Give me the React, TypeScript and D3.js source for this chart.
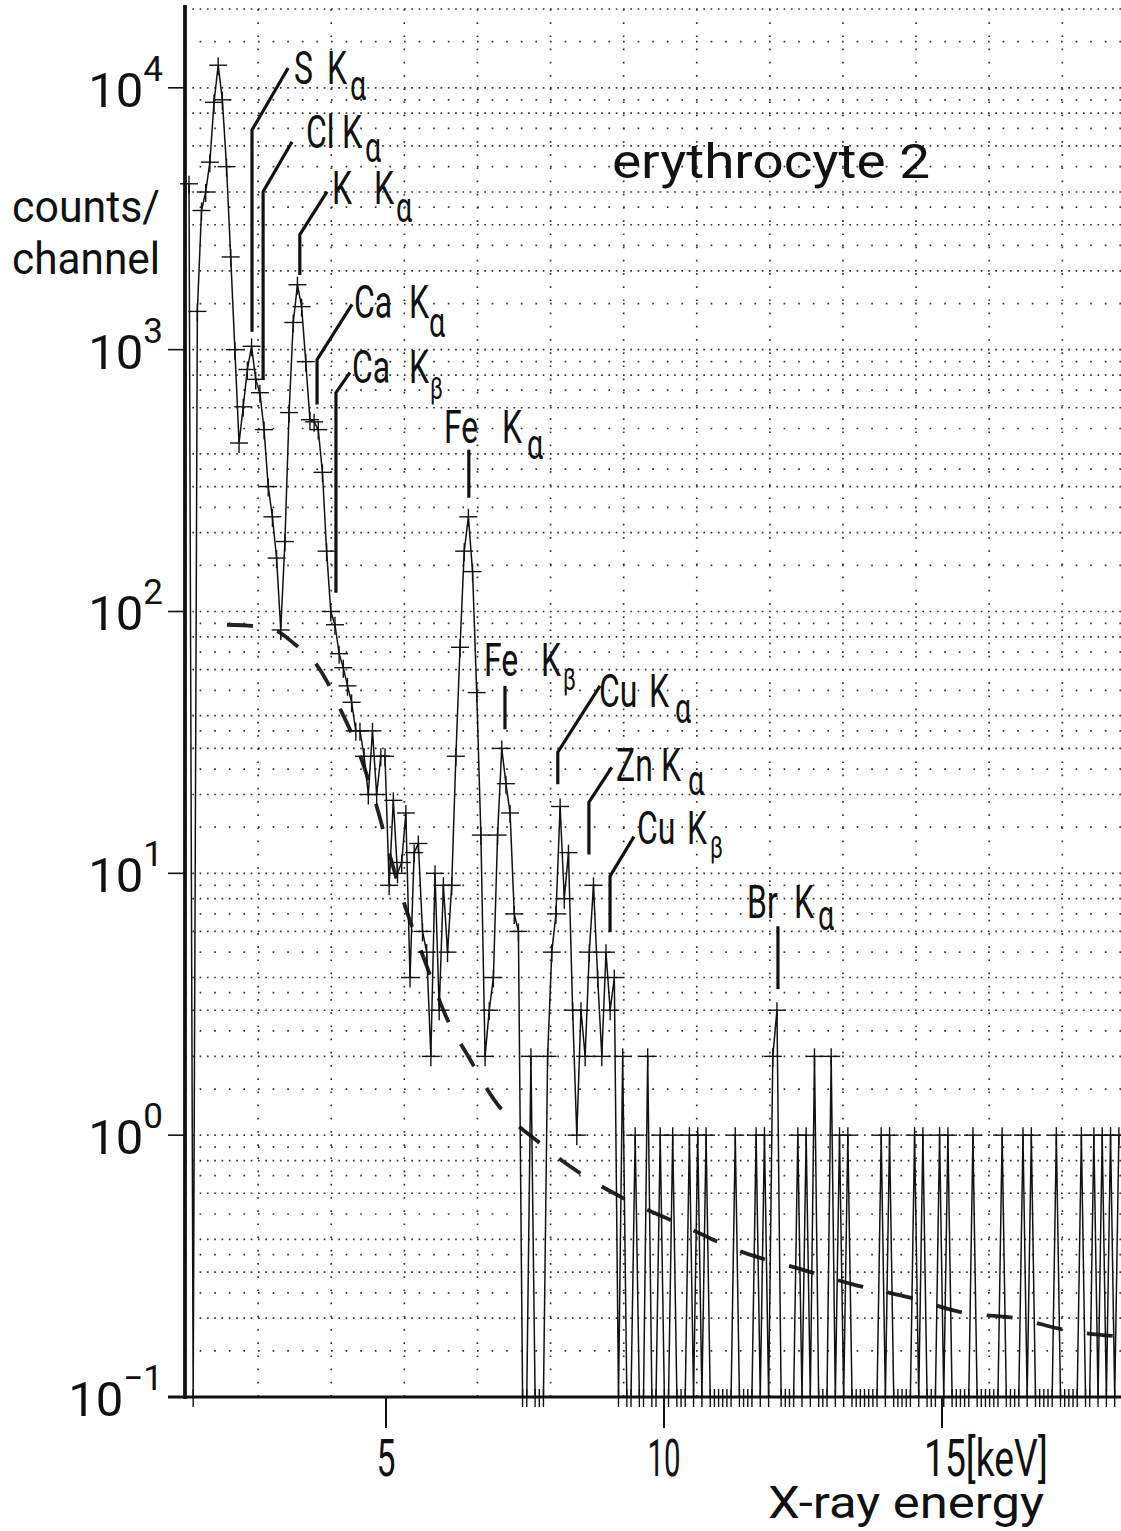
import React from "react";
import * as d3 from "d3";

const width = 1121;
const height = 1531;

// spectrum, one value per channel
const channelStart = 1.457; // keV of first channel
const channelWidth = 0.075; // keV per channel
const counts = [
  4300, 0, 1400, 3400, 4000, 5200, 8800, 12200, 9000, 5000,
  2260, 1000, 440, 605, 840, 1030, 770, 685, 495, 300,
  230, 160, 85, 185, 575, 1270, 1770, 1460, 900, 540,
  530, 495, 340, 170, 100, 89, 69, 61, 52, 45,
  35, 35, 28, 20, 35, 20, 28, 28, 9, 19,
  10, 11, 17, 4, 12, 13, 6, 5, 2, 10,
  3, 9, 5, 9, 28, 73, 170, 230, 142, 49,
  14, 2, 3, 4, 14, 30, 22, 17, 7, 6,
  0, 0, 2, 0, 0, 0, 2, 5, 7, 18,
  8, 12, 3, 1, 3, 2, 5, 9, 4, 2,
  5, 3, 4, 0, 2, 0, 0, 1, 0, 0,
  2, 0, 0, 1, 0, 0, 1, 0, 0, 0,
  1, 0, 1, 0, 1, 0, 0, 0, 0, 0,
  0, 1, 0, 0, 0, 0, 1, 0, 1, 0,
  2, 3, 0, 0, 0, 0, 1, 0, 1, 0,
  2, 0, 0, 0, 2, 0, 1, 0, 1, 0,
  0, 0, 0, 0, 0, 0, 1, 0, 1, 0,
  0, 0, 0, 0, 1, 0, 1, 0, 0, 0,
  1, 0, 1, 0, 0, 0, 0, 0, 1, 0,
  0, 0, 0, 0, 0, 1, 0, 0, 0, 0,
  1, 0, 1, 0, 0, 0, 0, 0, 1, 0,
  0, 0, 0, 0, 1, 0, 0, 1, 0, 1,
  0, 1, 0, 1,
];

// background (dashed curve)
const bgEnergy = [2.14, 2.61, 3.0, 3.36, 3.67, 3.94, 4.21, 4.44, 4.62, 4.85, 5.09, 5.38, 5.72, 6.08, 6.51, 6.94, 7.77, 8.56, 9.3, 10.36, 11.37, 12.41, 13.38, 14.41, 15.38, 16.33, 17.23, 18.22];
const bgCounts = [89, 88, 85, 75, 66, 54, 41, 32, 25, 17.5, 11.3, 7.1, 4.5, 2.84, 1.95, 1.37, 0.93, 0.7, 0.57, 0.45, 0.36, 0.31, 0.27, 0.24, 0.21, 0.2, 0.18, 0.17];

// axes
const yTickExponents = [4, 3, 2, 1, 0, -1];
const xTickValues = [5, 10, 15];
const xTickLabels = ["5", "10", "15[keV]"];
const xTitle = "X-ray energy";
const yTitle = ["counts/", "channel"];
const chartTitle = "erythrocyte 2";

// peak labels and their leader lines (keV, counts)
const peakElements = ["S", "Cl", "K", "Ca", "Ca", "Fe", "Fe", "Cu", "Zn", "Cu", "Br"];
const peakLines = ["α", "α", "α", "α", "β", "α", "β", "α", "α", "β", "α"];
const peakLeaders: [number, number][][] = [
  [[3.24, 11900], [2.59, 6900], [2.59, 1170]],
  [[3.31, 6220], [2.79, 4010], [2.79, 767]],
  [[3.94, 4010], [3.45, 2750], [3.45, 1930]],
  [[4.39, 1490], [3.76, 916], [3.76, 617]],
  [[4.35, 817], [4.1, 685], [4.1, 118]],
  [[6.49, 415], [6.49, 272]],
  [[7.14, 52], [7.14, 35.5]],
  [[8.85, 52], [8.09, 29], [8.09, 21.9]],
  [[9.06, 25.4], [8.65, 18.7], [8.65, 11.8]],
  [[9.46, 13.8], [9.03, 9.75], [9.03, 5.96]],
  [[12.05, 6.28], [12.05, 3.61]],
];

// label placement (px): element x, K x, subscript x, baselines
const labelLayout = [
  { ex: 294, kx: 327, sx: 350, base: 84, sub: 100 },
  { ex: 306, kx: 342, sx: 365, base: 148, sub: 162 },
  { ex: 332, kx: 374, sx: 396, base: 204, sub: 222 },
  { ex: 354, kx: 409, sx: 429, base: 318, sub: 337 },
  { ex: 352, kx: 409, sx: 430, base: 383, sub: 399 },
  { ex: 444, kx: 502, sx: 527, base: 443, sub: 459 },
  { ex: 484, kx: 541, sx: 563, base: 676, sub: 690 },
  { ex: 599, kx: 649, sx: 675, base: 707, sub: 723 },
  { ex: 616, kx: 661, sx: 688, base: 781, sub: 795 },
  { ex: 637, kx: 687, sx: 710, base: 844, sub: 858 },
  { ex: 747, kx: 794, sx: 818, base: 918, sub: 930 },
];
const squeeze = 0.68;

const font = "Roboto, 'DejaVu Sans', sans-serif";
const ink = "#111";

const left = 185;
const bottom = 1397;
const xDomain = [1.385, 18.22];
const gridStep = 1.315; // keV between vertical grid lines
const gridMults = [1, 1.5, 2, 2.5, 3, 3.5, 4, 5, 6, 7, 8, 9];
const denseMults = [1, 2, 3, 4, 6, 8];

export default function App() {
  const x = d3.scaleLinear().domain(xDomain).range([left, width]);
  const y = d3.scaleLog().domain([0.1, 2e4]).range([bottom, 9]);
  const yv = (c: number) => (c > 0 ? y(c) : y(0.1));

  const pts = counts.map((c, i) => [x(channelStart + i * channelWidth), yv(c)] as [number, number]);
  const spectrumPath = d3.line()(pts);

  const bgPath = d3
    .line<number>()
    .x((d, i) => x(bgEnergy[i]))
    .y((d) => y(d))
    .curve(d3.curveMonotoneX)(bgCounts);

  // grid
  const rows: { v: number; dense: boolean }[] = [];
  for (let e = -1; e <= 4; e++) {
    gridMults.forEach((m) => {
      const v = m * Math.pow(10, e);
      if (v <= 2.0001e4 && v > 0.1) rows.push({ v, dense: denseMults.includes(m) });
    });
  }
  const cols = d3.range(1, 13).map((k) => xDomain[0] + k * gridStep);

  const leader = d3
    .line<[number, number]>()
    .x((d) => x(d[0]))
    .y((d) => y(d[1]));

  return (
    <svg
      width={width}
      height={height}
      style={{ position: "absolute", left: 0, top: 0, background: "#fff" }}
    >
      {/* dotted grid */}
      <g stroke="#333" strokeWidth={1.7}>
        {rows.map((r, i) => (
          <line
            key={"r" + i}
            x1={left}
            x2={width}
            y1={y(r.v)}
            y2={y(r.v)}
            strokeDasharray={r.dense ? "1.7 5.6" : "1.7 12.9"}
          />
        ))}
        {cols.map((c, i) => (
          <line key={"c" + i} x1={x(c)} x2={x(c)} y1={9} y2={bottom} strokeDasharray="1.7 11.5" />
        ))}
      </g>

      {/* background */}
      <path d={bgPath || ""} fill="none" stroke="#222" strokeWidth={3.8} strokeDasharray="26 25" />

      {/* spectrum */}
      <path d={spectrumPath || ""} fill="none" stroke={ink} strokeWidth={1.5} />
      <g stroke={ink} strokeWidth={1.4}>
        {pts.map((p, i) => (
          <g key={"m" + i}>
            <line x1={p[0] - 9} x2={p[0] + 9} y1={p[1]} y2={p[1]} />
            <line x1={p[0]} x2={p[0]} y1={p[1] - 8} y2={p[1] + 10} />
          </g>
        ))}
      </g>

      {/* axes */}
      <line x1={left} x2={left} y1={5} y2={bottom + 2} stroke={ink} strokeWidth={3.8} />
      <line x1={168} x2={width} y1={bottom} y2={bottom} stroke={ink} strokeWidth={3} />
      {yTickExponents.map((e) => (
        <g key={"yt" + e}>
          <line x1={168} x2={left} y1={y(Math.pow(10, e))} y2={y(Math.pow(10, e))} stroke={ink} strokeWidth={1.6} />
          <text
            x={163}
            y={y(Math.pow(10, e)) + 19}
            textAnchor="end"
            fontFamily={font}
            fontWeight={400}
            fontSize={49}
            fill={ink}
          >
            <tspan>10</tspan>
            <tspan dy={-26} fontSize={35}>
              {e < 0 ? "−" + Math.abs(e) : String(e)}
            </tspan>
          </text>
        </g>
      ))}
      {xTickValues.map((v, i) => (
        <g key={"xt" + v}>
          <line x1={x(v)} x2={x(v)} y1={bottom} y2={bottom + 31} stroke={ink} strokeWidth={2} />
          <text
            x={i < 2 ? x(v) : x(v) - 18}
            y={1476}
            textAnchor={i < 2 ? "middle" : "start"}
            fontFamily={font}
            fontWeight={400}
            fontSize={52}
            fill={ink}
            textLength={i === 0 ? 19 : i === 1 ? 33 : 124}
            lengthAdjust="spacingAndGlyphs"
          >
            {xTickLabels[i]}
          </text>
        </g>
      ))}
      <text
        x={768}
        y={1518}
        fontFamily={font}
        fontWeight={400}
        fontSize={44}
        fill={ink}
        textLength={276}
        lengthAdjust="spacingAndGlyphs"
      >
        {xTitle}
      </text>
      {yTitle.map((t, i) => (
        <text
          key={t}
          x={12}
          y={222 + i * 52}
          fontFamily={font}
          fontWeight={400}
          fontSize={45}
          fill={ink}
          textLength={148}
          lengthAdjust="spacingAndGlyphs"
        >
          {t}
        </text>
      ))}
      <text
        x={612}
        y={178}
        fontFamily={font}
        fontWeight={400}
        fontSize={48}
        fill={ink}
        textLength={318}
        lengthAdjust="spacingAndGlyphs"
      >
        {chartTitle}
      </text>

      {/* peak labels */}
      {peakLeaders.map((l, i) => (
        <path key={"ld" + i} d={leader(l) || ""} fill="none" stroke={ink} strokeWidth={3.2} />
      ))}
      {peakElements.map((el, i) => {
        const L = labelLayout[i];
        const isBeta = peakLines[i] === "β";
        return (
          <text
            key={"pl" + i}
            transform={`scale(${squeeze},1)`}
            fontFamily={font}
            fontWeight={400}
            fontSize={47}
            fill={ink}
          >
            <tspan x={L.ex / squeeze} y={L.base}>
              {el}
            </tspan>
            <tspan x={L.kx / squeeze} y={L.base}>
              K
            </tspan>
            <tspan x={L.sx / squeeze} y={L.sub} fontSize={isBeta ? 32 : 42}>
              {peakLines[i]}
            </tspan>
          </text>
        );
      })}
    </svg>
  );
}
